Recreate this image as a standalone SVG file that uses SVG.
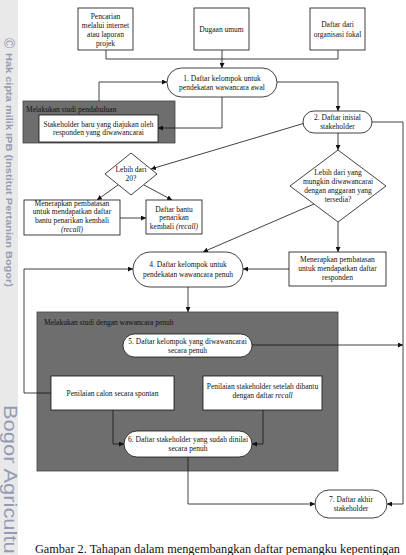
<svg xmlns="http://www.w3.org/2000/svg" width="406" height="555" viewBox="0 0 406 555">
<style>
.t{font-family:"Liberation Serif","Times New Roman",serif;font-size:7.5px;fill:#111;text-anchor:middle}
.tl{font-family:"Liberation Serif","Times New Roman",serif;font-size:7.5px;fill:#111}
.n{fill:#fff;stroke:#111;stroke-width:0.8}
.g{fill:#6e6e6e;stroke:#444;stroke-width:0.8}
.c{fill:none;stroke:#111;stroke-width:0.8}
.wm{font-family:"Liberation Sans",Arial,sans-serif;fill:#959bb2}
</style>
<defs>
<marker id="a" viewBox="0 0 10 10" refX="10" refY="5" markerWidth="5" markerHeight="5" orient="auto" markerUnits="userSpaceOnUse">
<path d="M0,0 L10,5 L0,10 z" fill="#111"/>
</marker>
</defs>
<rect width="406" height="555" fill="#fff"/>
<g id="watermark">
<rect x="0" y="0" width="18" height="555" fill="#e9e9e9"/>
<text class="wm" font-size="14" transform="translate(4,38) rotate(90)">©</text>
<text class="wm" font-size="9.5" font-weight="bold" transform="translate(5.5,53) rotate(90)" textLength="234" lengthAdjust="spacingAndGlyphs">Hak cipta milik IPB (Institut Pertanian Bogor)</text>
<text class="wm" font-size="19" transform="translate(3.5,405) rotate(90)" textLength="156" lengthAdjust="spacingAndGlyphs">Bogor Agricultur</text>
</g>
<g id="gray1"><rect class="g" x="23" y="101" width="152" height="42"/><text class="tl" x="26" y="111.5">Melakukan studi pendahuluan</text></g>
<g id="gray2"><rect class="g" x="37" y="312" width="301" height="159"/><text class="tl" x="44" y="324.5">Melakukan studi dengan wawancara penuh</text></g>
<g id="connectors">
<path class="c" d="M106,50 V59 H338 V50"/>
<path class="c" d="M222,50 V68" marker-end="url(#a)"/>
<path class="c" d="M277,82 H338 V111" marker-end="url(#a)"/>
<path class="c" d="M222,97 V128 H158" marker-end="url(#a)"/>
<path class="c" d="M99,101 V82 H167" marker-end="url(#a)"/>
<path class="c" d="M305,123 L151,169" marker-end="url(#a)"/>
<path class="c" d="M338,133 V150" marker-end="url(#a)"/>
<path class="c" d="M372,122 H403 V504 H387" marker-end="url(#a)"/>
<path class="c" d="M118,185 L97,200" marker-end="url(#a)"/>
<path class="c" d="M144,185 L172,200" marker-end="url(#a)"/>
<path class="c" d="M120,218 H146" marker-end="url(#a)"/>
<path class="c" d="M338,222 V252" marker-end="url(#a)"/>
<path class="c" d="M314,204 L203,252" marker-end="url(#a)"/>
<path class="c" d="M289,269 H243" marker-end="url(#a)"/>
<path class="c" d="M188,287 V312" marker-end="url(#a)"/>
<path class="c" d="M51,393 H24 V269 H133" marker-end="url(#a)"/>
<path class="c" d="M252,345 H403" marker-end="url(#a)"/>
<path class="c" d="M113,410 V444 H124" marker-end="url(#a)"/>
<path class="c" d="M263,410 V444 H252" marker-end="url(#a)"/>
<path class="c" d="M188,457 V504 H315" marker-end="url(#a)"/>
</g>
<g id="pencarian"><rect class="n" x="78" y="8" width="55" height="42"/><text class="t" x="105.5" y="18.5">Pencarian</text><text class="t" x="105.5" y="27.5">melalui internet</text><text class="t" x="105.5" y="36.5">atau laporan</text><text class="t" x="105.5" y="45.5">projek</text></g>
<g id="dugaan"><rect class="n" x="194" y="8" width="55" height="42"/><text class="t" x="221.5" y="32">Dugaan umum</text></g>
<g id="daftar-organisasi"><rect class="n" x="310" y="8" width="55" height="42"/><text class="t" x="337.5" y="27">Daftar dari</text><text class="t" x="337.5" y="36.5">organisasi fokal</text></g>
<g id="n1"><rect class="n" x="167" y="68" width="110" height="29" rx="14.5"/><text class="t" x="222" y="80.5">1. Daftar kelompok untuk</text><text class="t" x="222" y="90">pendekatan wawancara awal</text></g>
<g id="stakeholder-baru"><rect class="n" x="39" y="115" width="119" height="27"/><text class="t" x="98.5" y="126.5">Stakeholder baru yang diajukan oleh</text><text class="t" x="98.5" y="135">responden yang diwawancarai</text></g>
<g id="n2"><rect class="n" x="303" y="111" width="69" height="22" rx="11"/><text class="t" x="337.5" y="120">2. Daftar inisial</text><text class="t" x="337.5" y="128.5">stakeholder</text></g>
<g id="d20"><path class="n" d="M131,153 L157,174 L131,195 L105,174 Z"/><text class="t" x="131" y="172">Lebih dari</text><text class="t" x="131" y="181">20?</text></g>
<g id="dbig"><path class="n" d="M338,150 L386,186 L338,222 L290,186 Z"/><text class="t" x="338" y="174.5">Lebih dari yang</text><text class="t" x="338" y="183.5">mungkin diwawancarai</text><text class="t" x="338" y="192.5">dengan anggaran yang</text><text class="t" x="338" y="201.5">tersedia?</text></g>
<g id="pembatasan-bantu"><rect class="n" x="24" y="200" width="96" height="35"/><text class="t" x="72" y="205.5">Menerapkan pembatasan</text><text class="t" x="72" y="214">untuk mendapatkan daftar</text><text class="t" x="72" y="223">bantu penarikan kembali</text><text class="t" x="72" y="232" font-style="italic">(recall)</text></g>
<g id="daftar-bantu"><rect class="n" x="146" y="200" width="56" height="34"/><text class="t" x="174" y="211.5">Daftar bantu</text><text class="t" x="174" y="220">penarikan</text><text class="t" x="174" y="228.5">kembali <tspan font-style="italic">(recall)</tspan></text></g>
<g id="n4"><rect class="n" x="133" y="252" width="110" height="35" rx="17.5"/><text class="t" x="188" y="266.5">4. Daftar kelompok untuk</text><text class="t" x="188" y="276.5">pendekatan wawancara penuh</text></g>
<g id="pembatasan-responden"><rect class="n" x="289" y="252" width="97" height="34"/><text class="t" x="337.5" y="261.5">Menerapkan pembatasan</text><text class="t" x="337.5" y="271">untuk mendapatkan daftar</text><text class="t" x="337.5" y="280">responden</text></g>
<g id="n5"><rect class="n" x="123" y="334" width="129" height="23" rx="11.5"/><text class="t" x="187.5" y="343.5">5. Daftar kelompok yang diwawancarai</text><text class="t" x="187.5" y="352.5">secara penuh</text></g>
<g id="spontan"><rect class="n" x="51" y="376" width="123" height="34"/><text class="t" x="112.5" y="395.5">Penilaian calon secara spontan</text></g>
<g id="recall"><rect class="n" x="203" y="376" width="119" height="34"/><text class="t" x="262.5" y="389">Penilaian stakeholder setelah dibantu</text><text class="t" x="262.5" y="398">dengan daftar <tspan font-style="italic">recall</tspan></text></g>
<g id="n6"><rect class="n" x="124" y="431" width="128" height="26" rx="13"/><text class="t" x="188" y="442">6. Daftar stakeholder yang sudah dinilai</text><text class="t" x="188" y="451">secara penuh</text></g>
<g id="n7"><rect class="n" x="315" y="490" width="72" height="28" rx="14"/><text class="t" x="351" y="501.5">7. Daftar akhir</text><text class="t" x="351" y="510.5">stakeholder</text></g>
<text x="35" y="553" font-family="'Liberation Serif','Times New Roman',serif" font-size="12.5" fill="#111" textLength="365" lengthAdjust="spacingAndGlyphs">Gambar 2.  Tahapan dalam mengembangkan daftar pemangku kepentingan</text>
</svg>
